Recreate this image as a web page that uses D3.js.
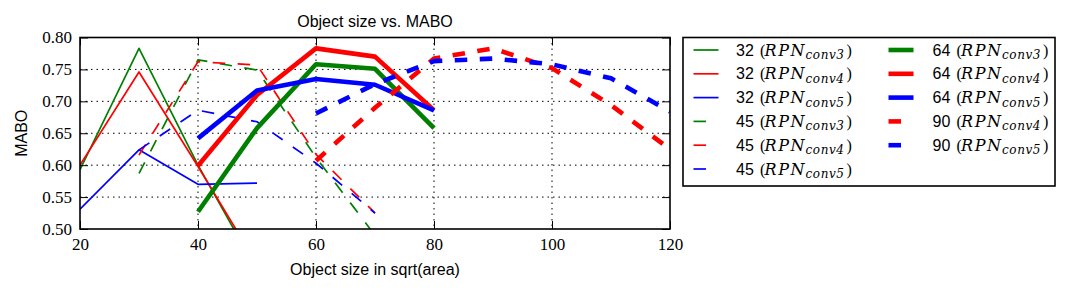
<!DOCTYPE html>
<html><head><meta charset="utf-8">
<script src="https://cdn.jsdelivr.net/npm/d3@7"></script>
<style>body{margin:0;background:#fff}svg{display:block}</style>
</head><body>
<svg id="c" width="1071" height="294"></svg>
<script>
// ---- data ----
const xs32 = [20, 30, 40, 50];
const xs45 = [30, 40, 50, 60, 70];
const xs64 = [40, 50, 60, 70, 80];
const xs90 = [60, 70, 80, 90, 100, 110, 120];

const v32conv3 = [0.593, 0.783, 0.600, 0.435];
const v32conv4 = [0.600, 0.746, 0.598, 0.445];
const v32conv5 = [0.531, 0.624, 0.570, 0.572];
const v45conv3 = [0.587, 0.765, 0.749, 0.612, 0.490];
const v45conv4 = [0.616, 0.762, 0.757, 0.617, 0.525];
const v45conv5 = [0.624, 0.686, 0.668, 0.603, 0.525];
const v64conv3 = [0.527, 0.658, 0.758, 0.751, 0.658];
const v64conv4 = [0.599, 0.710, 0.783, 0.770, 0.686];
const v64conv5 = [0.642, 0.717, 0.735, 0.726, 0.686];
const v90conv4 = [0.607, 0.690, 0.767, 0.783, 0.752, 0.694, 0.625];
const v90conv5 = [0.681, 0.727, 0.763, 0.767, 0.758, 0.736, 0.684];

const xTicks = [20, 40, 60, 80, 100, 120];
const yTicks = [0.50, 0.55, 0.60, 0.65, 0.70, 0.75, 0.80];

const title = "Object size vs. MABO";
const xLabel = "Object size in sqrt(area)";
const yLabel = "MABO";

const series = [
  {size: "32", layer: "conv3", xs: xs32, ys: v32conv3, color: "#008000", thick: false, dashed: false},
  {size: "32", layer: "conv4", xs: xs32, ys: v32conv4, color: "#ff0000", thick: false, dashed: false},
  {size: "32", layer: "conv5", xs: xs32, ys: v32conv5, color: "#0000ff", thick: false, dashed: false},
  {size: "45", layer: "conv3", xs: xs45, ys: v45conv3, color: "#008000", thick: false, dashed: true},
  {size: "45", layer: "conv4", xs: xs45, ys: v45conv4, color: "#ff0000", thick: false, dashed: true},
  {size: "45", layer: "conv5", xs: xs45, ys: v45conv5, color: "#0000ff", thick: false, dashed: true},
  {size: "64", layer: "conv3", xs: xs64, ys: v64conv3, color: "#008000", thick: true, dashed: false},
  {size: "64", layer: "conv4", xs: xs64, ys: v64conv4, color: "#ff0000", thick: true, dashed: false},
  {size: "64", layer: "conv5", xs: xs64, ys: v64conv5, color: "#0000ff", thick: true, dashed: false},
  {size: "90", layer: "conv4", xs: xs90, ys: v90conv4, color: "#ff0000", thick: true, dashed: true},
  {size: "90", layer: "conv5", xs: xs90, ys: v90conv5, color: "#0000ff", thick: true, dashed: true}
];

// ---- layout ----
const L = 80, R = 670, T = 37.5, B = 229;
const svg = d3.select("#c");
const x = d3.scaleLinear().domain([20, 120]).range([L, R]);
const y = d3.scaleLinear().domain([0.50, 0.80]).range([B, T]);
const THIN = 1.7, THICK = 4.6, DASH = "12.5,12.5";

svg.append("defs").append("clipPath").attr("id", "clip")
  .append("rect").attr("x", L).attr("y", T).attr("width", R - L).attr("height", B - T);

// grid
const grid = svg.append("g");
grid.selectAll("line.gx").data(xTicks.slice(1, -1)).join("line")
  .attr("x1", d => x(d)).attr("x2", d => x(d)).attr("y1", T).attr("y2", B)
  .attr("stroke", "#000").attr("stroke-width", 1).attr("stroke-dasharray", "1.5,4");
grid.selectAll("line.gy").data(yTicks.slice(1, -1)).join("line")
  .attr("y1", d => y(d)).attr("y2", d => y(d)).attr("x1", L).attr("x2", R)
  .attr("stroke", "#000").attr("stroke-width", 1).attr("stroke-dasharray", "1.5,4");

// lines
const line = d3.line().x(d => x(d[0])).y(d => y(d[1]));
const lg = svg.append("g").attr("clip-path", "url(#clip)");
series.forEach(s => {
  lg.append("path")
    .attr("d", line(s.xs.map((v, i) => [v, s.ys[i]])))
    .attr("fill", "none").attr("stroke", s.color)
    .attr("stroke-width", s.thick ? THICK : THIN)
    .attr("stroke-dasharray", s.dashed ? DASH : null)
    .attr("stroke-linejoin", "round");
});

// axes (ticks inside, all four sides)
const tickFont = "'Liberation Serif', 'DejaVu Serif', serif";
const tl = 8;
const axB = svg.append("g").attr("transform", `translate(0,${B})`)
  .call(d3.axisBottom(x).tickValues(xTicks).tickSizeInner(-tl).tickSizeOuter(0).tickPadding(13).tickFormat(d3.format("d")));
const axT = svg.append("g").attr("transform", `translate(0,${T})`)
  .call(d3.axisTop(x).tickValues(xTicks).tickSizeInner(-tl).tickSizeOuter(0).tickFormat(""));
const axL = svg.append("g").attr("transform", `translate(${L},0)`)
  .call(d3.axisLeft(y).tickValues(yTicks).tickSizeInner(-tl).tickSizeOuter(0).tickPadding(8).tickFormat(d3.format(".2f")));
const axR = svg.append("g").attr("transform", `translate(${R},0)`)
  .call(d3.axisRight(y).tickValues(yTicks).tickSizeInner(-tl).tickSizeOuter(0).tickFormat(""));
[axB, axT, axL, axR].forEach(a => {
  a.select(".domain").remove();
  a.selectAll("line").attr("stroke", "#000").attr("stroke-width", 1);
  a.selectAll("text").attr("font-family", tickFont).attr("font-size", 17).attr("fill", "#000");
});
axB.selectAll("text").attr("dy", null).attr("y", 21);

// frame
svg.append("rect").attr("x", L).attr("y", T).attr("width", R - L).attr("height", B - T)
  .attr("fill", "none").attr("stroke", "#000").attr("stroke-width", 1.6);

// titles
const sans = "'Liberation Sans', Arial, Helvetica, sans-serif";
svg.append("text").attr("x", (L + R) / 2).attr("y", 27).attr("text-anchor", "middle")
  .attr("font-family", sans).attr("font-size", 16).text(title);
svg.append("text").attr("x", (L + R) / 2).attr("y", 275).attr("text-anchor", "middle")
  .attr("font-family", sans).attr("font-size", 16).text(xLabel);
svg.append("text").attr("transform", `translate(27,${(T + B) / 2}) rotate(-90)`).attr("text-anchor", "middle")
  .attr("font-family", sans).attr("font-size", 16).text(yLabel);

// legend
const LX = 683, LY = 37.5, LW = 372, LH = 148.5;
svg.append("rect").attr("x", LX).attr("y", LY).attr("width", LW).attr("height", LH)
  .attr("fill", "#fff").attr("stroke", "#000").attr("stroke-width", 1.6);
const rowH = 23.8, row0 = 50;
const serif = "'DejaVu Serif', 'Liberation Serif', serif";
series.forEach((s, i) => {
  const col = i < 6 ? 0 : 1;
  const row = i < 6 ? i : i - 6;
  const sx = col === 0 ? 693.5 : 888.5;
  const tx = col === 0 ? 736 : 932.5;
  const cy = row0 + row * rowH;
  svg.append("line").attr("x1", sx).attr("x2", sx + 25).attr("y1", cy).attr("y2", cy)
    .attr("stroke", s.color).attr("stroke-width", s.thick ? THICK : THIN)
    .attr("stroke-dasharray", s.dashed ? DASH : null);
  const bl = cy + 5.5;
  const g = svg.append("g").attr("font-size", 16);
  g.append("text").attr("x", tx).attr("y", bl).attr("font-family", sans).text(s.size);
  g.append("text").attr("x", tx + 24).attr("y", bl).attr("font-family", "'Liberation Serif', serif").text("(");
  g.append("text").attr("x", tx + 28.5).attr("y", bl).attr("font-family", serif).attr("font-style", "italic")
    .attr("font-size", 16).attr("textLength", 40).attr("lengthAdjust", "spacing").text("RPN");
  g.append("text").attr("x", tx + 69.5).attr("y", bl + 3.5).attr("font-family", serif).attr("font-style", "italic")
    .attr("font-size", 12).attr("textLength", 38.5).attr("lengthAdjust", "spacing").text(s.layer);
  g.append("text").attr("x", tx + 110.5).attr("y", bl).attr("font-family", "'Liberation Serif', serif").text(")");
});
</script>
</body></html>
